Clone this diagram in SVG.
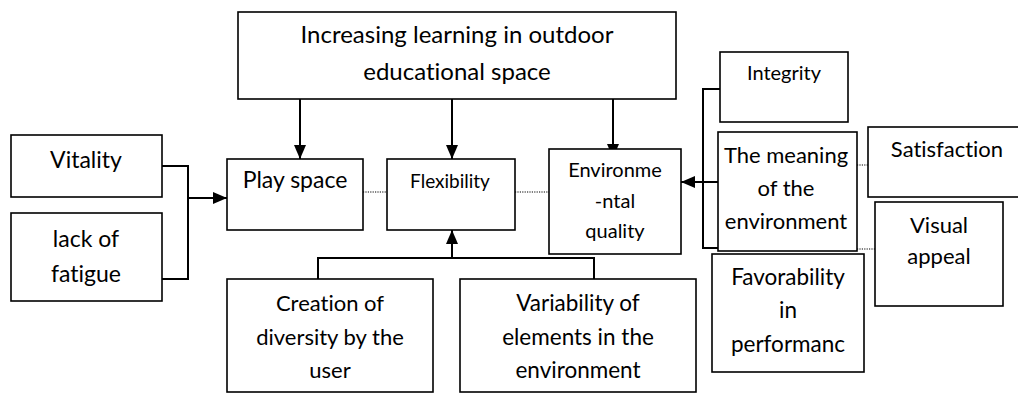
<svg xmlns="http://www.w3.org/2000/svg" width="1018" height="393" viewBox="0 0 1018 393">
  <style>
    .box { fill: #ffffff; stroke: #000000; stroke-width: 1.6; }
    .t { font-family: Lato, "Open Sans", sans-serif; fill: #000000; text-anchor: middle; font-variant-ligatures: none; font-feature-settings: "liga" 0, "dlig" 0, "clig" 0, "calt" 0; }
    .xl { font-size: 24px; }
    .lg { font-size: 23px; }
    .bt { font-size: 22.5px; }
    .md { font-size: 22px; }
    .sm { font-size: 20px; }
    .xs { font-size: 19px; }
    .link { fill: none; stroke: #000000; stroke-width: 2; }
    .dot { fill: none; stroke: #000000; stroke-width: 1.2; stroke-dasharray: 1.2 1.2; }
  </style>
  <defs>
    <marker id="head" viewBox="0 0 14 12" refX="14" refY="6" markerWidth="14" markerHeight="12" markerUnits="userSpaceOnUse" orient="auto">
      <path d="M0,0 L14,6 L0,12 Z" fill="#000000"/>
    </marker>
  </defs>

  <!-- connectors -->
  <g id="connectors">
    <!-- top goal to the three factors -->
    <line class="link" x1="300" y1="99" x2="300" y2="159" marker-end="url(#head)"/>
    <line class="link" x1="452" y1="99" x2="452" y2="159" marker-end="url(#head)"/>
    <line class="link" x1="613" y1="99" x2="613" y2="158" marker-end="url(#head)"/>
    <!-- vitality / lack of fatigue bracket into play space -->
    <polyline class="link" points="162,166 188,166 188,279 162,279"/>
    <line class="link" x1="188" y1="198" x2="227" y2="198" marker-end="url(#head)"/>
    <!-- bottom bracket into flexibility -->
    <polyline class="link" points="318,279 318,258 594,258 594,279"/>
    <line class="link" x1="452" y1="258" x2="452" y2="230" marker-end="url(#head)"/>
    <!-- right-hand bracket into environmental quality -->
    <polyline class="link" points="720,89 703,89 703,248 718,248"/>
    <line class="link" x1="718" y1="182" x2="681" y2="182" marker-end="url(#head)"/>
    <!-- dotted associations -->
    <line class="dot" x1="363" y1="192" x2="387" y2="192"/>
    <line class="dot" x1="515" y1="192" x2="549" y2="192"/>
    <line class="dot" x1="857" y1="165" x2="868" y2="165"/>
    <line class="dot" x1="857" y1="249" x2="875" y2="249"/>
  </g>

  <g id="goal">
    <rect class="box" x="238" y="12" width="438" height="87"/>
    <text class="t xl" x="457" y="43">Increasing learning in outdoor</text>
    <text class="t xl" x="457" y="80">educational space</text>
  </g>

  <g id="vitality">
    <rect class="box" x="11" y="135" width="151" height="62"/>
    <text class="t lg" x="86" y="168">Vitality</text>
  </g>

  <g id="fatigue">
    <rect class="box" x="11" y="213" width="151" height="88"/>
    <text class="t lg" x="86" y="247">lack of</text>
    <text class="t lg" x="86" y="282">fatigue</text>
  </g>

  <g id="play-space">
    <rect class="box" x="227" y="159" width="136" height="71"/>
    <text class="t lg" x="295" y="188">Play space</text>
  </g>

  <g id="flexibility">
    <rect class="box" x="387" y="159" width="128" height="71"/>
    <text class="t xs" x="450" y="188">Flexibility</text>
  </g>

  <g id="environmental-quality">
    <rect class="box" x="549" y="149" width="132" height="105"/>
    <text class="t sm" x="615" y="177">Environme</text>
    <text class="t sm" x="615" y="208">-ntal</text>
    <text class="t sm" x="615" y="238">quality</text>
  </g>

  <g id="integrity">
    <rect class="box" x="720" y="52" width="128" height="70"/>
    <text class="t sm" x="784" y="80">Integrity</text>
  </g>

  <g id="meaning">
    <rect class="box" x="718" y="132" width="139" height="119"/>
    <text class="t md" x="786" y="163">The meaning</text>
    <text class="t md" x="786" y="196">of the</text>
    <text class="t md" x="786" y="229">environment</text>
  </g>

  <g id="satisfaction">
    <rect class="box" x="868" y="127" width="160" height="70"/>
    <text class="t md" x="947" y="157">Satisfaction</text>
  </g>

  <g id="visual-appeal">
    <rect class="box" x="875" y="202" width="128" height="104"/>
    <text class="t md" x="939" y="233">Visual</text>
    <text class="t md" x="939" y="264">appeal</text>
  </g>

  <g id="favorability">
    <rect class="box" x="712" y="254" width="152" height="118"/>
    <text class="t bt" x="788" y="285">Favorability</text>
    <text class="t bt" x="788" y="318">in</text>
    <text class="t bt" x="788" y="352">performanc</text>
  </g>

  <g id="creation">
    <rect class="box" x="227" y="279" width="206" height="113"/>
    <text class="t md" x="330" y="311">Creation of</text>
    <text class="t md" x="330" y="345">diversity by the</text>
    <text class="t md" x="330" y="378">user</text>
  </g>

  <g id="variability">
    <rect class="box" x="460" y="279" width="236" height="113"/>
    <text class="t bt" x="578" y="311">Variability of</text>
    <text class="t bt" x="578" y="345">elements in the</text>
    <text class="t bt" x="578" y="378">environment</text>
  </g>
</svg>
